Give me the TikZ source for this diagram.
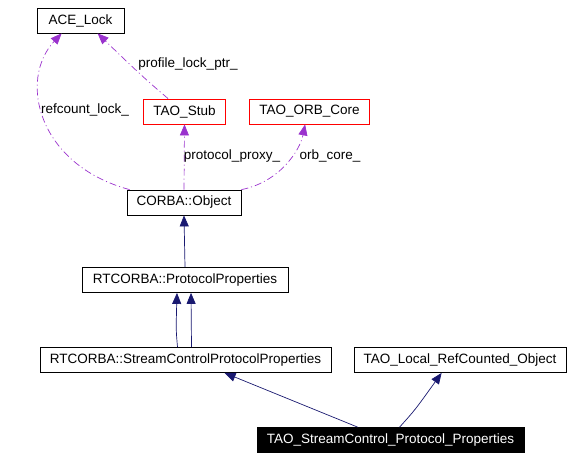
\documentclass[tikz,border=0pt]{standalone}
\usepackage{fontspec}
\setmainfont{Liberation Sans}
\usetikzlibrary{arrows.meta,calc}
\definecolor{edgepurple}{HTML}{9A32CD}
\definecolor{edgenavy}{HTML}{191970}
\begin{document}
\begin{tikzpicture}[x=1pt,y=-1pt,
  box/.style={draw=black,line width=0.8pt,minimum height=25pt,inner sep=0pt,font=\fontsize{13.5}{15}\selectfont,fill=white},
  redbox/.style={box,draw=red},
  hibox/.style={box,fill=black,text=white},
  usedge/.style={draw=edgepurple,line width=0.7pt,dash pattern=on 7pt off 3pt on 1pt off 3pt,-{Triangle[length=11pt,width=9pt,fill=edgepurple]}},
  inedge/.style={draw=edgenavy,line width=0.7pt,-{Triangle[length=11pt,width=9pt,fill=edgenavy]}},
  lbl/.style={font=\fontsize{13.5}{15}\selectfont,inner sep=1pt}]
\useasboundingbox (0,0) rectangle (569,453);
\node[box,minimum width=87pt] (ace) at (80.5,20.5) {ACE\_Lock};
\node[redbox,minimum width=82pt] (stub) at (184.5,111.5) {TAO\_Stub};
\node[redbox,minimum width=120pt] (orb) at (309.5,111.5) {TAO\_ORB\_Core};
\node[box,minimum width=114pt] (obj) at (184,202.5) {CORBA::Object};
\node[box,minimum width=206pt] (pp) at (185,280) {RTCORBA::ProtocolProperties};
\node[box,minimum width=291pt] (scpp) at (185.5,360) {RTCORBA::StreamControlProtocolProperties};
\node[box,minimum width=212pt] (loc) at (460,360) {TAO\_Local\_RefCounted\_Object};
\node[hibox,minimum width=267pt] (tsc) at (390.5,440) {TAO\_StreamControl\_Protocol\_Properties};
% usage edges
\draw[usedge] ($(obj.north west)+(3,0)$) .. controls (38,165) and (18,80) .. ($(ace.south west)+(25,0)$);
\draw[usedge] ($(stub.north west)+(25,0)$) .. controls (140,75) and (120,55) .. ($(ace.south west)+(61,0)$);
\draw[usedge] (obj.north) -- (stub.south);
\draw[usedge] (obj.north east) .. controls (280,182) and (300,150) .. ($(orb.south west)+(56,0)$);
\node[lbl] (l1) at (85,110) {refcount\_lock\_};
\node[lbl] (l2) at (188,64) {profile\_lock\_ptr\_};
\node[lbl] (l3) at (232,156) {protocol\_proxy\_};
\node[lbl] (l4) at (330,156) {orb\_core\_};
% inheritance edges
\draw[inedge] (pp.north) -- (obj.south);
\draw[inedge] ($(scpp.north)+(-8,0)$) .. controls (176,330) .. ($(pp.south)+(-8,0)$);
\draw[inedge] ($(scpp.north)+(6,0)$) -- ($(pp.south)+(6,0)$);
\draw[inedge] ($(tsc.north west)+(101,0)$) -- ($(scpp.south west)+(185,0)$);
\draw[inedge] ($(tsc.north west)+(143,0)$) .. controls (415,410) .. ($(loc.south west)+(88,0)$);
\end{tikzpicture}
\end{document}
